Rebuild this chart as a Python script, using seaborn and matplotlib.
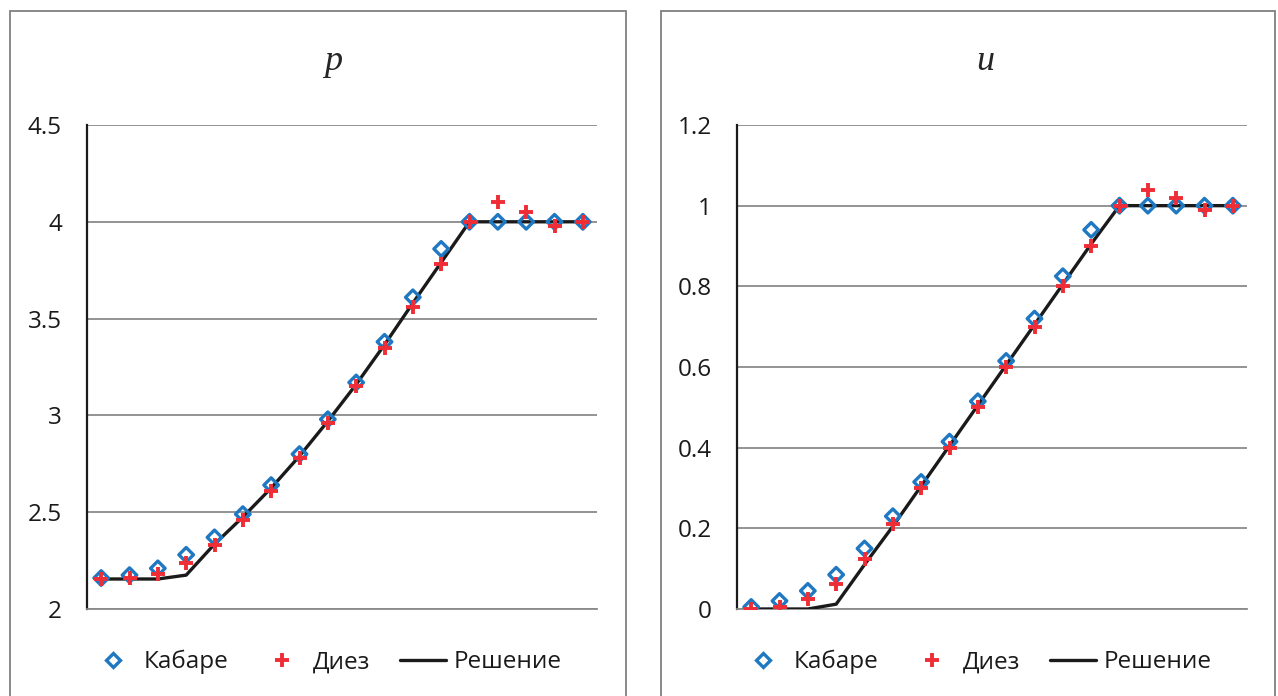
import numpy as np
import seaborn as sns
import matplotlib.pyplot as plt
from matplotlib.lines import Line2D
from matplotlib.patches import Rectangle
from matplotlib.ticker import FuncFormatter, MultipleLocator

# values (18 points per panel)
p_kabare = [2.16, 2.175, 2.21, 2.28, 2.37, 2.49, 2.64, 2.80, 2.98, 3.17, 3.38, 3.61, 3.86,
            4.0, 4.0, 4.0, 4.0, 4.0]
p_diez = [2.155, 2.16, 2.18, 2.24, 2.33, 2.46, 2.61, 2.78, 2.96, 3.15, 3.35, 3.56, 3.78,
          4.0, 4.10, 4.05, 3.98, 4.0]
p_exact = [2.155, 2.155, 2.155, 2.175, 2.335, 2.475, 2.625, 2.79, 2.97, 3.16, 3.365, 3.58, 3.79,
           4.0, 4.0, 4.0, 4.0, 4.0]

u_kabare = [0.005, 0.02, 0.045, 0.085, 0.15, 0.23, 0.315, 0.415, 0.515, 0.615, 0.72, 0.825, 0.94,
            1.0, 1.0, 1.0, 1.0, 1.0]
u_diez = [0.0, 0.005, 0.025, 0.062, 0.125, 0.21, 0.30, 0.40, 0.50, 0.60, 0.70, 0.80, 0.90,
          1.0, 1.04, 1.02, 0.99, 1.0]
u_exact = [0.0, 0.0, 0.0, 0.012, 0.11, 0.205, 0.305, 0.405, 0.505, 0.605, 0.705, 0.805, 0.905,
           1.0, 1.0, 1.0, 1.0, 1.0]

labels = ["Кабаре", "Диез", "Решение"]
titles = ["p", "u"]

BLUE = "#1f78c1"
RED = "#ee2d36"
GRID = "#8a8a8a"

sns.set_style("white")
plt.rcParams["font.family"] = ["Open Sans", "DejaVu Sans"]

W, H = 1278, 696
fig = plt.figure(figsize=(W / 100, H / 100), dpi=100)

# panel frames (chart areas)
for x0, x1 in [(10, 626), (661, 1275)]:
    fig.patches.append(Rectangle((x0 / W, -0.05), (x1 - x0) / W, 1.05 - 11 / H,
                                 transform=fig.transFigure, fill=False,
                                 edgecolor="#808080", linewidth=1.3))

n = len(p_exact)
x = np.arange(n) + 0.5

panels = [
    (87, p_kabare, p_diez, p_exact, (2, 4.5), 0.5, 333, 326),
    (737, u_kabare, u_diez, u_exact, (0, 1.2), 0.2, 985, 976),
]

for i, (left, kab, diez, exact, ylim, step, tx, lx) in enumerate(panels):
    ax = fig.add_axes([left / W, (H - 609) / H, 510 / W, 484 / H])
    sns.lineplot(x=x, y=exact, ax=ax, color="#1a1a1a", linewidth=2.4, zorder=3)
    sns.scatterplot(x=x, y=kab, ax=ax, marker="D", s=55, facecolor="none",
                    edgecolor=BLUE, linewidth=2.4, zorder=4)
    sns.scatterplot(x=x, y=diez, ax=ax, marker="+", s=100, color=RED,
                    linewidth=2.8, zorder=5)

    ax.set_xlim(0, n)
    ax.set_ylim(*ylim)
    ax.yaxis.set_major_locator(MultipleLocator(step))
    ax.yaxis.set_major_formatter(FuncFormatter(lambda v, _: f"{v:g}"))
    ax.set_xticks(np.arange(n + 1))
    ax.set_xticklabels([])
    ax.tick_params(axis="x", length=8, width=1.3, color=GRID, direction="out")
    ax.tick_params(axis="y", length=0, pad=18, labelsize=17.5, labelcolor="#1a1a1a")
    ax.grid(axis="y", color=GRID, linewidth=1.3)
    ax.set_axisbelow(True)
    for s in ["top", "right"]:
        ax.spines[s].set_visible(False)
    ax.spines["left"].set_color("#1a1a1a")
    ax.spines["left"].set_linewidth(1.6)
    ax.spines["bottom"].set_color(GRID)
    ax.spines["bottom"].set_linewidth(1.3)
    ax.set_xlabel("")
    ax.set_ylabel("")

    fig.text(tx / W, 1 - 62 / H, titles[i], ha="center", va="center",
             family="Liberation Serif", style="italic", fontsize=26)

    handles = [
        Line2D([], [], linestyle="none", marker="D", markersize=7,
               markerfacecolor="none", markeredgecolor=BLUE, markeredgewidth=2.4),
        Line2D([], [], linestyle="none", marker="+", markersize=10,
               color=RED, markeredgewidth=2.8),
        Line2D([], [], color="#1a1a1a", linewidth=2.4),
    ]
    fig.legend(handles, labels, loc="center", bbox_to_anchor=(lx / W, 1 - 662 / H),
               ncol=3, frameon=False, fontsize=17.5, handlelength=1.9,
               handletextpad=0.3, columnspacing=1.25, labelcolor="#1a1a1a")

fig.savefig("out.png", dpi=100)
